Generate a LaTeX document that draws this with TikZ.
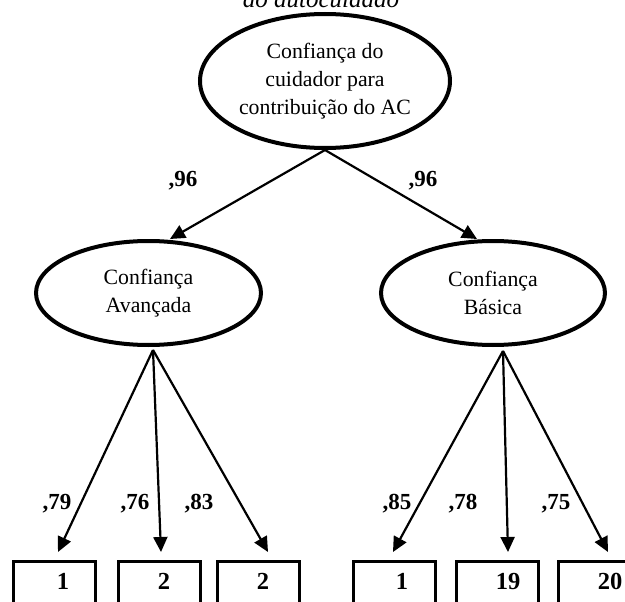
\documentclass[tikz,border=0pt]{standalone}
\usepackage{fontspec}
\setmainfont{Liberation Serif}
\usetikzlibrary{arrows.meta,shapes.geometric,calc}
\begin{document}
\begin{tikzpicture}[x=1pt,y=-1pt,
  latent/.style={draw,ellipse,line width=4pt,inner sep=0pt,align=center,
    font=\fontsize{21.8}{27.7}\selectfont},
  itembox/.style={draw,rectangle,line width=3pt,minimum width=82pt,
    minimum height=60pt,anchor=north,inner sep=0pt},
  itemnum/.style={anchor=base,inner sep=0pt,font=\bfseries\fontsize{24.5}{28}\selectfont},
  loading/.style={anchor=base,inner sep=0pt,font=\bfseries\fontsize{23}{26}\selectfont},
  regarrow/.style={line width=2.2pt,-{Triangle[length=15pt,width=14pt]}}]

\useasboundingbox (0,0) rectangle (625,602);
\clip (0,0) rectangle (625,602);

% heading, partly above the frame
\node[anchor=base,inner sep=0pt,font=\itshape\fontsize{25}{30}\selectfont] (head) at (321,8) {do autocuidado};

% latent factors
\node[latent,minimum width=250pt,minimum height=134pt] (top) at (325,81)
  {Confiança do\\cuidador para\\contribuição do AC};
\node[latent,minimum width=225pt,minimum height=104pt] (lft) at (148.5,293)
  {Confiança\\Avançada};
\node[latent,minimum width=224pt,minimum height=104pt] (rgt) at (493,293)
  {Confiança\\Básica};

% observed items
\node[itembox] (b1) at (54,559.5) {};
\node[itembox] (b2) at (159,559.5) {};
\node[itembox] (b3) at (258,559.5) {};
\node[itembox] (b4) at (394,559.5) {};
\node[itembox] (b5) at (497.5,559.5) {};
\node[itembox] (b6) at (599,559.5) {};
\node[itemnum] (n1) at (63,589) {1};
\node[itemnum] (n2) at (164,589) {2};
\node[itemnum] (n3) at (263,589) {2};
\node[itemnum] (n4) at (402,589) {1};
\node[itemnum] (n5) at (508,589) {19};
\node[itemnum] (n6) at (610,589) {20};

% second-order paths
\draw[regarrow] (top.south) -- ($(lft.north)+(21.5,0)$);
\draw[regarrow] (top.south) -- ($(rgt.north)+(-16,0)$);
\node[loading] (l1) at (183,186) {,96};
\node[loading] (l2) at (423,186) {,96};

% first-order loadings
\coordinate (lsrc) at ($(lft.south)+(4.5,3)$);
\coordinate (rsrc) at ($(rgt.south)+(10,4)$);
\draw[regarrow] (lsrc) -- ($(b1.north)+(4,-7.5)$);
\draw[regarrow] (lsrc) -- ($(b2.north)+(2,-7.5)$);
\draw[regarrow] (lsrc) -- ($(b3.north)+(10,-7.5)$);
\draw[regarrow] (rsrc) -- ($(b4.north)+(-1,-7.5)$);
\draw[regarrow] (rsrc) -- ($(b5.north)+(10.5,-7.5)$);
\draw[regarrow] (rsrc) -- ($(b6.north)+(9,-7.5)$);

\node[loading] (l3) at (57,509) {,79};
\node[loading] (l4) at (135,509) {,76};
\node[loading] (l5) at (199,509) {,83};
\node[loading] (l6) at (397,509) {,85};
\node[loading] (l7) at (463,509) {,78};
\node[loading] (l8) at (556,509) {,75};
\end{tikzpicture}
\end{document}
